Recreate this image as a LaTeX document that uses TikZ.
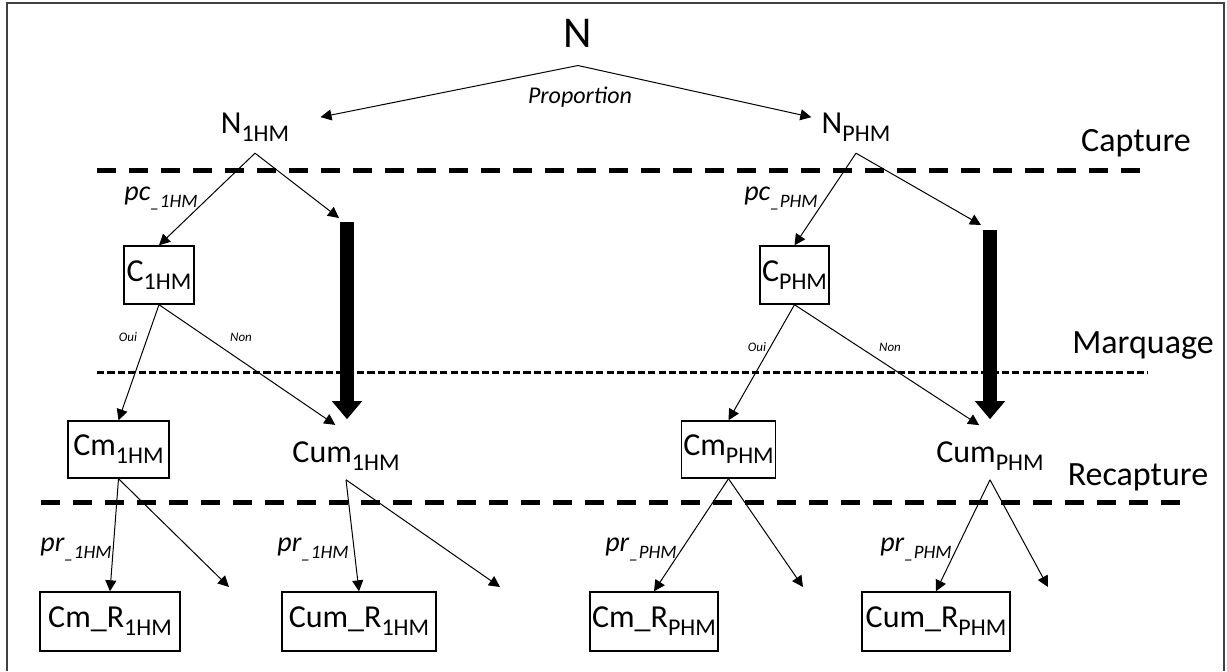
\documentclass[tikz,border=0pt]{standalone}
\usepackage{fontspec}
\setmainfont{Carlito}
\usetikzlibrary{arrows.meta}
\newcommand\lo[2][12]{\raisebox{-0.25em}{\fontsize{#1}{#1}\selectfont #2}}
\tikzset{
  lab/.style={font=\fontsize{16}{18}\selectfont, inner sep=2pt},
  box/.style={lab, draw, line width=0.7pt, minimum height=29pt, inner sep=1pt},
  phase/.style={font=\fontsize{17}{19}\selectfont},
  note/.style={font=\fontsize{12}{14}\selectfont\itshape},
  prob/.style={font=\fontsize{14}{16}\selectfont\itshape},
  yesno/.style={font=\fontsize{6.5}{7}\selectfont\itshape},
  arr/.style={-{Triangle[length=5.5pt,width=5.5pt]}, line width=0.5pt},
  fat/.style={-{Triangle[length=9pt,width=14.5pt]}, line width=7pt},
  cut/.style={line width=2.5pt, dash pattern=on 9.5pt off 6.5pt},
  cutthin/.style={line width=1.5pt, dash pattern=on 3.6pt off 1.6pt}}

\begin{document}
\begin{tikzpicture}[x=0.5pt,y=-0.5pt]
\useasboundingbox (0,0) rectangle (1227,671);
\draw[line width=1.2pt, black!75] (7,671) -- (7,3) -- (1224,3) -- (1224,671);
% phases
\draw[cut] (97,170) -- (1150,170);
\draw[cutthin] (97,372) -- (1148,372);
\draw[cut] (41,502) -- (1182,502);
\node[phase] (capt) at (1136,143) {Capture};
\node[phase] (marq) at (1143,346) {Marquage};
\node[phase] (recapt) at (1138,477) {Recapture};

% population
\node[lab, font=\fontsize{22}{24}\selectfont, inner sep=9pt] (N) at (578,33) {N};
\node[lab, inner xsep=15.5pt, inner ysep=5.5pt] (N1) at (255,127.5) {N\lo{1HM}};
\node[lab, inner xsep=5pt, inner ysep=5.5pt] (NP) at (856,127.5) {N\lo{PHM}};
\node[note] (prop) at (580,97) {Proportion};
\draw[arr] (N.south) -- (N1.9);
\draw[arr] (N.south) -- (NP.167);

% capture
\node[box, minimum width=35pt] (C1) at (159,275) {C\lo{1HM}};
\node[box, minimum width=33.5pt] (CP) at (794.5,275) {C\lo{PHM}};
\coordinate (in1) at (339,218);
\coordinate (bar1) at (347,222);
\coordinate (inP) at (981,225);
\coordinate (barP) at (990,230);
\node[prob] (pc1) at (161,198) {pc\lo[9.5]{\_1HM}};
\node[prob] (pcP) at (781,198) {pc\lo[9.5]{\_PHM}};
\draw[arr] (N1.south) -- (C1.north);
\draw[arr] (N1.south) -- (in1);
\draw[arr] (NP.south) -- (CP.north);
\draw[arr] (NP.south) -- (inP);

% marquage
\node[box, minimum width=50.5pt, minimum height=28.5pt] (Cm1) at (118.5,449.5) {Cm\lo{1HM}};
\node[lab, inner ysep=4.5pt] (Cum1) at (346,456) {Cum\lo{1HM}};
\node[box, minimum width=46.5pt, minimum height=28.5pt] (CmP) at (728.5,449.5) {Cm\lo{PHM}};
\node[lab, inner ysep=4.5pt] (CumP) at (990,456) {Cum\lo{PHM}};
\node[yesno] (oui1) at (128,337) {Oui};
\node[yesno] (non1) at (241,337) {Non};
\node[yesno] (ouiP) at (757,347) {Oui};
\node[yesno] (nonP) at (890,347) {Non};
\draw[fat] (bar1) -- (bar1 |- Cum1.north) [shorten >=6.5pt];
\draw[fat] (barP) -- (barP |- CumP.north) [shorten >=6.5pt];
\draw[arr] (C1.south) -- (Cm1.north);
\draw[arr, shorten >=6.5pt] (C1.south) -- (Cum1.north);
\draw[arr] (CP.south) -- (CmP.north);
\draw[arr, shorten >=6.5pt] (CP.south) -- (CumP.north);

% recapture
\node[box, minimum width=70pt, minimum height=29.5pt] (CmR1) at (110,621.5) {Cm\_R\lo{1HM}};
\node[box, minimum width=77pt, minimum height=29.5pt] (CumR1) at (359,621.5) {Cum\_R\lo{1HM}};
\node[box, minimum width=64pt, minimum height=29.5pt] (CmRP) at (654,621.5) {Cm\_R\lo{PHM}};
\node[box, minimum width=74pt, minimum height=29.5pt] (CumRP) at (936,621.5) {Cum\_R\lo{PHM}};
\coordinate (lost1) at (229,587);
\coordinate (lost2) at (500,587);
\coordinate (lost3) at (803,587);
\coordinate (lost4) at (1048,587);
\node[prob] (pr1) at (76,549) {pr\lo[9.5]{\_1HM}};
\node[prob] (pr2) at (313,549) {pr\lo[9.5]{\_1HM}};
\node[prob] (pr3) at (641,549) {pr\lo[9.5]{\_PHM}};
\node[prob] (pr4) at (916,549) {pr\lo[9.5]{\_PHM}};
\draw[arr] (Cm1.south) -- (CmR1.north);
\draw[arr] (Cm1.south) -- (lost1);
\draw[arr] (Cum1.south) -- (CumR1.north);
\draw[arr] (Cum1.south) -- (lost2);
\draw[arr] (CmP.south) -- (CmRP.north);
\draw[arr] (CmP.south) -- (lost3);
\draw[arr] (CumP.south) -- (CumRP.north);
\draw[arr] (CumP.south) -- (lost4);
\end{tikzpicture}
\end{document}
